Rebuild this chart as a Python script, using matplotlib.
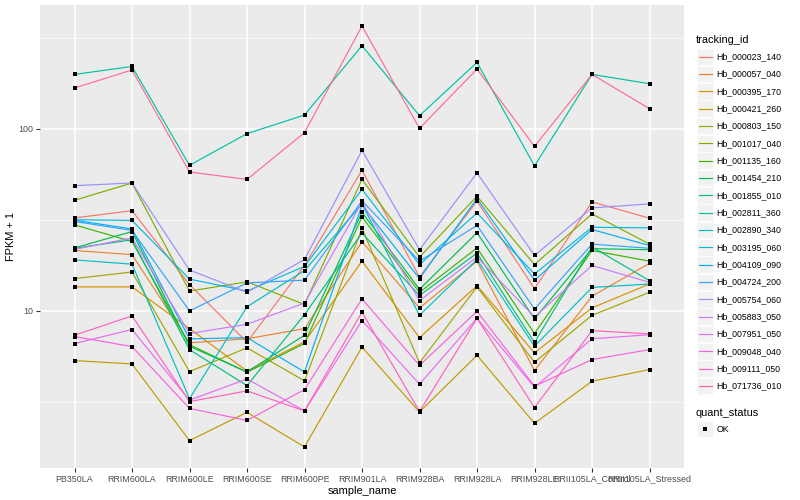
import matplotlib
matplotlib.use("Agg")
import matplotlib.pyplot as plt
from matplotlib.patches import Rectangle
from matplotlib.lines import Line2D
from matplotlib.ticker import FixedLocator, NullFormatter, FixedFormatter
import numpy as np

plt.rcParams['font.family'] = ['Liberation Sans', 'DejaVu Sans']

samples = ["PB350LA", "RRIM600LA", "RRIM600LE", "RRIM600SE", "RRIM600PE",
           "RRIM901LA", "RRIM928BA", "RRIM928LA", "RRIM928LE",
           "RRII105LA_Control", "RRII105LA_Stressed"]

tracking_ids = ["Hb_000023_140", "Hb_000057_040", "Hb_000395_170", "Hb_000421_260",
                "Hb_000803_150", "Hb_001017_040", "Hb_001135_160", "Hb_001454_210",
                "Hb_001855_010", "Hb_002811_360", "Hb_002890_340", "Hb_003195_060",
                "Hb_004109_090", "Hb_004724_200", "Hb_005754_060", "Hb_005883_050",
                "Hb_007951_050", "Hb_009048_040", "Hb_009111_050", "Hb_071736_010"]

colors = ["#F8766D", "#EA8331", "#D89000", "#C09B00", "#A3A500", "#7CAE00",
          "#39B600", "#00BB4E", "#00BF7D", "#00C1A3", "#00BFC4", "#00BAE0",
          "#00B0F6", "#35A2FF", "#9590FF", "#C77CFF", "#E76BF3", "#FA62DB",
          "#FF62BC", "#FF6C91"]

# FPKM + 1 values per sample (order as in `samples`)
hb_000023_140 = [32.3, 35.4, 13.9, 6.7, 17.7, 59.0, 15.3, 40.0, 13.2, 39.6, 32.2]
hb_000057_040 = [21.4, 20.3, 6.65, 7.0, 7.96, 23.9, 10.35, 18.7, 4.68, 12.0, 18.2]
hb_000395_170 = [13.5, 13.5, 7.96, 4.65, 6.73, 18.7, 7.1, 13.7, 5.86, 10.35, 14.0]
hb_000421_260 = [5.31, 5.09, 1.93, 2.76, 1.78, 6.3, 2.77, 5.68, 2.40, 4.09, 4.74]
hb_000803_150 = [15.0, 16.3, 4.62, 6.24, 4.11, 28.3, 5.16, 13.5, 5.2, 9.42, 12.6]
hb_001017_040 = [40.4, 50.3, 12.8, 14.4, 10.8, 52.6, 19.7, 42.5, 17.9, 34.0, 23.2]
hb_001135_160 = [29.6, 24.0, 6.5, 4.58, 6.6, 32.7, 12.6, 22.1, 7.48, 21.4, 18.7]
hb_001454_210 = [22.1, 27.2, 6.37, 4.6, 7.32, 34.7, 13.1, 26.8, 9.0, 21.9, 21.6]
hb_001855_010 = [22.0, 24.5, 6.1, 3.87, 9.5, 26.7, 12.1, 20.7, 6.68, 22.4, 14.6]
hb_002811_360 = [198.7, 219.8, 62.9, 93.9, 118.9, 285.8, 117.9, 231.3, 62.4, 198.7, 176.7]
hb_002890_340 = [19.0, 18.0, 3.28, 10.5, 16.6, 38.5, 9.42, 19.1, 6.37, 13.4, 14.0]
hb_003195_060 = [31.6, 31.3, 14.9, 12.8, 17.5, 46.4, 17.9, 34.4, 15.9, 28.7, 28.5]
hb_004109_090 = [31.4, 28.1, 6.99, 7.1, 4.6, 37.9, 15.0, 41.3, 14.7, 27.9, 22.8]
hb_004724_200 = [30.9, 27.6, 9.96, 14.2, 14.7, 40.1, 18.7, 29.4, 10.2, 23.2, 22.0]
hb_005754_060 = [48.6, 50.3, 16.7, 12.6, 19.1, 76.0, 21.6, 57.1, 20.1, 36.7, 38.6]
hb_005883_050 = [21.7, 25.1, 7.48, 8.41, 11.0, 39.4, 11.35, 19.7, 9.23, 17.7, 14.3]
hb_007951_050 = [6.59, 7.87, 3.22, 4.21, 2.81, 8.81, 3.94, 9.07, 3.79, 7.0, 7.37]
hb_009048_040 = [7.2, 6.34, 2.9, 2.49, 3.68, 11.6, 5.0, 9.91, 3.84, 5.38, 6.1]
hb_009111_050 = [7.32, 9.35, 3.16, 3.62, 2.81, 9.8, 2.79, 9.07, 2.93, 7.76, 7.45]
hb_071736_010 = [167.4, 210.2, 57.8, 52.6, 95.1, 366.6, 100.4, 212.8, 79.9, 198.7, 128.8]

series = [hb_000023_140, hb_000057_040, hb_000395_170, hb_000421_260, hb_000803_150,
          hb_001017_040, hb_001135_160, hb_001454_210, hb_001855_010, hb_002811_360,
          hb_002890_340, hb_003195_060, hb_004109_090, hb_004724_200, hb_005754_060,
          hb_005883_050, hb_007951_050, hb_009048_040, hb_009111_050, hb_071736_010]

W, H = 800, 500
fig = plt.figure(figsize=(8, 5), dpi=100)
fig.patch.set_facecolor('white')
pl, pr, pt, pb = 40, 684, 5, 468
ax = fig.add_axes([pl / W, 1 - pb / H, (pr - pl) / W, (pb - pt) / H])
ax.set_facecolor('#EBEBEB')

x = np.arange(len(samples))
for vals, col in zip(series, colors):
    ax.plot(x, vals, color=col, lw=0.85, zorder=3, solid_joinstyle='miter')
for vals in series:
    ax.plot(x, vals, ls='none', marker='s', ms=2.6, color='black', mew=0, zorder=4)

ax.set_yscale('log')
allv = np.log10(np.concatenate([np.asarray(s, float) for s in series]))
lo, hi = allv.min(), allv.max()
pad = 0.05 * (hi - lo)
ax.set_ylim(10 ** (lo - pad), 10 ** (hi + pad))
ax.set_xlim(-0.6, len(samples) - 1 + 0.6)

ax.yaxis.set_major_locator(FixedLocator([10, 100]))
ax.yaxis.set_major_formatter(FixedFormatter(["10", "100"]))
ax.yaxis.set_minor_locator(FixedLocator([10 ** 0.5, 10 ** 1.5, 10 ** 2.5]))
ax.yaxis.set_minor_formatter(NullFormatter())
ax.set_xticks(x)
ax.set_xticklabels(samples)

ax.grid(True, which='major', color='white', lw=1.1, zorder=1)
ax.grid(True, which='minor', axis='y', color='white', lw=0.5, zorder=1)
ax.set_axisbelow(True)
for s in ax.spines.values():
    s.set_visible(False)
ax.tick_params(axis='both', which='major', length=2.7, width=0.8, color='#333333',
               labelcolor='#4D4D4D', labelsize=6.4, pad=2)
ax.tick_params(axis='y', which='minor', length=0)

ax.set_xlabel("sample_name", fontsize=7.9, labelpad=2)
ax.set_ylabel("FPKM + 1", fontsize=7.9)
ax.yaxis.set_label_coords(-(40 - 16) / (pr - pl), 0.5)

# legend: tracking_id
fig.text(696 / W, 1 - 40 / H, "tracking_id", fontsize=7.9, va='center', ha='left')
y0 = 56.7
dy = 17.33
for i, (tid, col) in enumerate(zip(tracking_ids, colors)):
    yc = y0 + i * dy
    fig.patches.append(Rectangle((697 / W, 1 - (yc + 8.2) / H), 16 / W, 16.4 / H,
                                 transform=fig.transFigure, facecolor='#F2F2F2',
                                 edgecolor='white', lw=0.5))
    fig.lines.append(Line2D([699 / W, 711.5 / W], [1 - yc / H, 1 - yc / H],
                            transform=fig.transFigure, color=col, lw=0.85))
    fig.text(716.5 / W, 1 - yc / H, tid, fontsize=6.3, va='center', ha='left')

# legend: quant_status
fig.text(696 / W, 1 - 412.5 / H, "quant_status", fontsize=7.9, va='center', ha='left')
yc = 429
fig.patches.append(Rectangle((697 / W, 1 - (yc + 8.2) / H), 16 / W, 16.4 / H,
                             transform=fig.transFigure, facecolor='#F2F2F2',
                             edgecolor='white', lw=0.5))
fig.lines.append(Line2D([705 / W], [1 - yc / H], transform=fig.transFigure,
                        marker='s', ms=2.6, color='black', mew=0, ls='none'))
fig.text(716.5 / W, 1 - yc / H, "OK", fontsize=6.3, va='center', ha='left')

fig.savefig("out.png", dpi=100)
